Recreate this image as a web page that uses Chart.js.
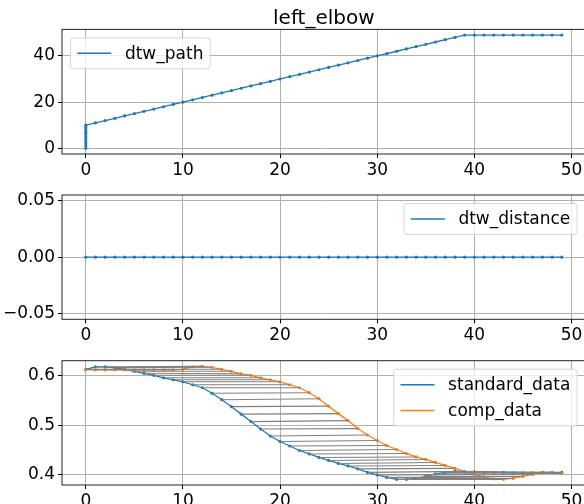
<!DOCTYPE html>
<html>
<head>
<meta charset="utf-8">
<script src="https://cdn.jsdelivr.net/npm/chart.js@4.4.1/dist/chart.umd.min.js"></script>
<style>
  html, body { margin: 0; padding: 0; background: #fff; overflow: hidden; }
  body { width: 584px; height: 504px; position: relative; }
  canvas { position: absolute; left: 0; }
</style>
</head>
<body>
<canvas id="c1" width="600" height="184" style="top:0px"></canvas>
<canvas id="c2" width="600" height="180" style="top:170px"></canvas>
<canvas id="c3" width="600" height="175" style="top:340px"></canvas>
<script>
// dtw path: index into standard_data (x) vs index into comp_data (y)
const pathStd = [0, 0, 0, 0, 0, 0, 0, 0, 0, 0, 0,
  1, 2, 3, 4, 5, 6, 7, 8, 9, 10, 11, 12, 13, 14, 15, 16, 17, 18, 19, 20,
  21, 22, 23, 24, 25, 26, 27, 28, 29, 30, 31, 32, 33, 34, 35, 36, 37, 38, 39,
  40, 41, 42, 43, 44, 45, 46, 47, 48, 49];
const pathComp = [0, 1, 2, 3, 4, 5, 6, 7, 8, 9, 10,
  11, 12, 13, 14, 15, 16, 17, 18, 19, 20, 21, 22, 23, 24, 25, 26, 27, 28, 29, 30,
  31, 32, 33, 34, 35, 36, 37, 38, 39, 40, 41, 42, 43, 44, 45, 46, 47, 48, 49,
  49, 49, 49, 49, 49, 49, 49, 49, 49, 49];

const frames = [0, 1, 2, 3, 4, 5, 6, 7, 8, 9, 10, 11, 12, 13, 14, 15, 16, 17, 18, 19,
  20, 21, 22, 23, 24, 25, 26, 27, 28, 29, 30, 31, 32, 33, 34, 35, 36, 37, 38, 39,
  40, 41, 42, 43, 44, 45, 46, 47, 48, 49];
const dtwDistance = [0, 0, 0, 0, 0, 0, 0, 0, 0, 0, 0, 0, 0, 0, 0, 0, 0, 0, 0, 0,
  0, 0, 0, 0, 0, 0, 0, 0, 0, 0, 0, 0, 0, 0, 0, 0, 0, 0, 0, 0,
  0, 0, 0, 0, 0, 0, 0, 0, 0, 0];

const standardData = [0.612, 0.617, 0.617, 0.615, 0.612, 0.608, 0.604, 0.600, 0.595, 0.591,
  0.587, 0.581, 0.575, 0.564, 0.551, 0.537, 0.522, 0.507, 0.492, 0.478,
  0.467, 0.458, 0.449, 0.442, 0.435, 0.429, 0.423, 0.418, 0.412, 0.405,
  0.400, 0.395, 0.391, 0.391, 0.393, 0.397, 0.402, 0.405, 0.407, 0.406,
  0.406, 0.405, 0.405, 0.405, 0.404, 0.404, 0.404, 0.405, 0.405, 0.405];
const compData = [0.611, 0.611, 0.611, 0.611, 0.611, 0.611, 0.611, 0.611, 0.611, 0.611,
  0.612, 0.617, 0.618, 0.616, 0.612, 0.608, 0.603, 0.600, 0.595, 0.591,
  0.587, 0.581, 0.575, 0.565, 0.553, 0.538, 0.523, 0.509, 0.493, 0.480,
  0.469, 0.459, 0.451, 0.443, 0.436, 0.431, 0.425, 0.419, 0.413, 0.407,
  0.401, 0.396, 0.392, 0.391, 0.393, 0.397, 0.401, 0.404, 0.405, 0.403];

const xTicks = [0, 10, 20, 30, 40, 50];
const pathTicks = [0, 20, 40];
const distTicks = [-0.05, 0, 0.05];
const dataTicks = [0.4, 0.5, 0.6];

const BLUE = "#1f77b4";
const ORANGE = "#ff7f0e";
const FONT = "DejaVu Sans";
const FS = 17;

// matplotlib-like frame, title and legend drawn inside the chart area
const mplDecor = {
  id: "mplDecor",
  afterDraw(chart, args, opts) {
    const ctx = chart.ctx;
    const a = chart.chartArea;
    ctx.save();
    ctx.strokeStyle = "#222";
    ctx.lineWidth = 1;
    ctx.strokeRect(a.left, a.top, a.right - a.left, a.bottom - a.top);

    if (opts.title) {
      ctx.fillStyle = "#000";
      ctx.font = `20px "${FONT}"`;
      ctx.textAlign = "center";
      ctx.textBaseline = "alphabetic";
      ctx.fillText(opts.title, (a.left + a.right) / 2, a.top - 5);
    }

    const items = opts.items || [];
    if (items.length) {
      const pad = 0.4 * FS, handle = 2 * FS, htp = 0.8 * FS, lsp = 0.5 * FS;
      const textH = 17.3, axPad = 0.5 * FS;
      ctx.font = `${FS}px "${FONT}"`;
      const tw = Math.max(...items.map((it) => ctx.measureText(it.label).width));
      const w = pad + handle + htp + tw + pad;
      const h = 2 * pad + items.length * textH + (items.length - 1) * lsp;
      const x0 = opts.loc === "ul" ? a.left + axPad : a.right - axPad - w;
      const y0 = a.top + axPad;
      ctx.beginPath();
      ctx.roundRect(x0, y0, w, h, 3);
      ctx.fillStyle = "rgba(255,255,255,0.8)";
      ctx.fill();
      ctx.strokeStyle = "rgba(204,204,204,0.8)";
      ctx.stroke();
      items.forEach((it, i) => {
        const cy = y0 + pad + i * (textH + lsp) + textH / 2;
        ctx.beginPath();
        ctx.strokeStyle = it.color;
        ctx.lineWidth = 1.5;
        ctx.moveTo(x0 + pad, cy);
        ctx.lineTo(x0 + pad + handle, cy);
        ctx.stroke();
        ctx.fillStyle = "#000";
        ctx.textAlign = "left";
        ctx.textBaseline = "middle";
        ctx.fillText(it.label, x0 + pad + handle + htp, cy + 1);
      });
    }
    ctx.restore();
  },
};

function makeScales(yMin, yMax, yTicks, yFmt) {
  const grid = { color: "#b0b0b0", lineWidth: 1, tickColor: "#000", tickLength: 4 };
  const ticks = { color: "#000", font: { family: FONT, size: FS }, autoSkip: false, maxRotation: 0 };
  return {
    x: {
      type: "linear",
      min: -2.45,
      max: 51.45,
      afterBuildTicks: (s) => { s.ticks = xTicks.map((v) => ({ value: v })); },
      afterFit: (s) => { s.height = 30; },
      ticks: { ...ticks, padding: 2, callback: (v) => String(v) },
      grid: grid,
      border: { display: false },
    },
    y: {
      type: "linear",
      min: yMin,
      max: yMax,
      afterBuildTicks: (s) => { s.ticks = yTicks.map((v) => ({ value: v })); },
      afterFit: (s) => { s.width = 62; },
      ticks: { ...ticks, padding: 3, callback: yFmt },
      grid: grid,
      border: { display: false },
    },
  };
}

function lineSet(xs, ys, color, order) {
  return {
    data: xs.map((x, i) => ({ x: x, y: ys[i] })),
    borderColor: color,
    backgroundColor: color,
    borderWidth: 1.3,
    pointRadius: 1.6,
    pointBorderWidth: 0,
    pointHoverRadius: 0,
    showLine: true,
    tension: 0,
    order: order,
  };
}

function baseOptions(padding, scales, decor) {
  return {
    responsive: false,
    animation: false,
    events: [],
    layout: { padding: padding },
    scales: scales,
    plugins: { legend: { display: false }, tooltip: { enabled: false }, mplDecor: decor },
  };
}

// 1) dtw path
new Chart(document.getElementById("c1"), {
  type: "scatter",
  data: { datasets: [lineSet(pathStd, pathComp, BLUE, 0)] },
  options: baseOptions(
    { top: 29.4, left: 0, right: 14.4, bottom: 0 },
    makeScales(-2.45, 51.45, pathTicks, (v) => String(v)),
    { title: "left_elbow", loc: "ul", items: [{ label: "dtw_path", color: BLUE }] }
  ),
  plugins: [mplDecor],
});

// 2) dtw distance
new Chart(document.getElementById("c2"), {
  type: "scatter",
  data: { datasets: [lineSet(frames, dtwDistance, BLUE, 0)] },
  options: baseOptions(
    { top: 25, left: 0, right: 14.4, bottom: 0.7 },
    makeScales(-0.055, 0.055, distTicks, (v) => (v < 0 ? "\u2212" : "") + Math.abs(v).toFixed(2)),
    { loc: "ur", items: [{ label: "dtw_distance", color: BLUE }] }
  ),
  plugins: [mplDecor],
});

// 3) standard vs comp with matching lines from the path
const matchLines = [];
pathStd.forEach((i, k) => {
  const j = pathComp[k];
  matchLines.push({ x: i, y: standardData[i] }, { x: j, y: compData[j] }, { x: null, y: null });
});

new Chart(document.getElementById("c3"), {
  type: "scatter",
  data: {
    datasets: [
      {
        data: matchLines,
        borderColor: "#808080",
        borderWidth: 1.1,
        pointRadius: 0,
        showLine: true,
        spanGaps: false,
        order: 0,
      },
      lineSet(frames, standardData, BLUE, 2),
      lineSet(frames, compData, ORANGE, 1),
    ],
  },
  options: baseOptions(
    { top: 20.7, left: 0, right: 14.4, bottom: 0 },
    makeScales(0.3797, 0.6293, dataTicks, (v) => v.toFixed(1)),
    { loc: "ur", items: [{ label: "standard_data", color: BLUE }, { label: "comp_data", color: ORANGE }] }
  ),
  plugins: [mplDecor],
});
</script>
</body>
</html>
